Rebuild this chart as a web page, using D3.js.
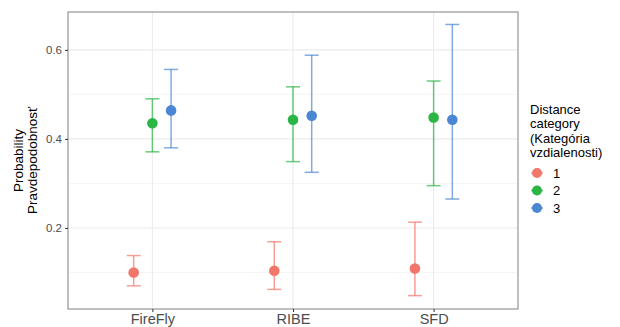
<!DOCTYPE html>
<html><head><meta charset="utf-8">
<script src="https://d3js.org/d3.v7.min.js"></script>
<style>body{margin:0;background:#fff;font-family:"Liberation Sans",Arial,sans-serif;}</style>
</head><body>
<svg id="chart" width="620" height="327"></svg>
<script>
// data
var methods=['FireFly','RIBE','SFD'];
var groups=['1','2','3'];
var colors=['#F3766B','#2BB544','#4A86D2'];
var est1=[0.100,0.104,0.109], lo1=[0.070,0.062,0.048], hi1=[0.138,0.169,0.213];
var est2=[0.435,0.443,0.448], lo2=[0.371,0.349,0.295], hi2=[0.490,0.517,0.530];
var est3=[0.464,0.452,0.443], lo3=[0.380,0.325,0.265], hi3=[0.556,0.588,0.657];
var yTicks=[0.2,0.4,0.6], yMinor=[0.1,0.3,0.5];

var est=[est1,est2,est3], lo=[lo1,lo2,lo3], hi=[hi1,hi2,hi3];
var rows=[];
groups.forEach(function(g,gi){methods.forEach(function(m,mi){
  rows.push({m:m,g:g,gi:gi,v:est[gi][mi],lo:lo[gi][mi],hi:hi[gi][mi]});});});

var margin={left:68,right:102,top:12,bottom:18},W=620,H=327;
var svg=d3.select('#chart');
var x=d3.scalePoint().domain(methods).range([margin.left,W-margin.right]).padding(0.6);
var y=d3.scaleLinear().domain([0.018,0.685]).range([H-margin.bottom,margin.top]);
var dx=d3.scalePoint().domain(groups).range([-18.7,18.7]);

var grid=svg.append('g');
grid.selectAll('.mn').data(yMinor).join('line')
  .attr('x1',margin.left).attr('x2',W-margin.right)
  .attr('y1',d=>y(d)).attr('y2',d=>y(d)).attr('stroke','#F3F3F3').attr('stroke-width',0.8);
grid.selectAll('.mj').data(yTicks).join('line')
  .attr('x1',margin.left).attr('x2',W-margin.right)
  .attr('y1',d=>y(d)).attr('y2',d=>y(d)).attr('stroke','#EBEBEB').attr('stroke-width',1.1);
grid.selectAll('.vx').data(methods).join('line')
  .attr('x1',d=>x(d)).attr('x2',d=>x(d))
  .attr('y1',margin.top).attr('y2',H-margin.bottom).attr('stroke','#EBEBEB').attr('stroke-width',1.1);

// error bars
var eb=svg.append('g').selectAll('g').data(rows).join('g')
  .attr('stroke',d=>colors[d.gi]).attr('stroke-opacity',0.7).attr('stroke-width',1.5);
eb.append('line').attr('x1',d=>x(d.m)+dx(d.g)).attr('x2',d=>x(d.m)+dx(d.g))
  .attr('y1',d=>y(d.lo)).attr('y2',d=>y(d.hi));
eb.append('line').attr('x1',d=>x(d.m)+dx(d.g)-7).attr('x2',d=>x(d.m)+dx(d.g)+7)
  .attr('y1',d=>y(d.lo)).attr('y2',d=>y(d.lo));
eb.append('line').attr('x1',d=>x(d.m)+dx(d.g)-7).attr('x2',d=>x(d.m)+dx(d.g)+7)
  .attr('y1',d=>y(d.hi)).attr('y2',d=>y(d.hi));

svg.append('g').selectAll('circle').data(rows).join('circle')
  .attr('cx',d=>x(d.m)+dx(d.g)).attr('cy',d=>y(d.v)).attr('r',5.3)
  .attr('fill',d=>colors[d.gi]);

// panel border
svg.append('rect').attr('x',margin.left).attr('y',margin.top)
  .attr('width',W-margin.right-margin.left).attr('height',H-margin.bottom-margin.top)
  .attr('fill','none').attr('stroke','#8C8C8C').attr('stroke-width',1.1);

// axes
var ya=svg.append('g').attr('transform','translate('+margin.left+',0)')
  .call(d3.axisLeft(y).tickValues(yTicks).tickFormat(d3.format('.1f')).tickSize(3).tickPadding(3));
var xa=svg.append('g').attr('transform','translate(0,'+(H-margin.bottom)+')')
  .call(d3.axisBottom(x).tickSize(3).tickPadding(2));
[ya,xa].forEach(function(a){a.select('.domain').remove();
  a.selectAll('line').attr('stroke','#333').attr('stroke-width',1);
  a.selectAll('text').attr('fill','#4D4D4D').style('font-family','"Liberation Sans",Arial,sans-serif');});
ya.selectAll('text').style('font-size','11.5px');
xa.selectAll('text').style('font-size','14.5px');

// y title
var yt=svg.append('text').attr('transform','translate(25,'+((margin.top+H-margin.bottom)/2)+') rotate(-90)')
  .attr('text-anchor','middle').style('font-size','13.5px').attr('fill','#000');
yt.append('tspan').attr('x',0).attr('dy','-0.15em').text('Probability');
yt.append('tspan').attr('x',0).attr('dy','1.05em').text('Pravdepodobnosť');

// legend
var lg=svg.append('g').attr('transform','translate(530,0)');
['Distance','category','(Kategória','vzdialenosti)'].forEach(function(t,i){
  lg.append('text').attr('x',0).attr('y',114+i*14.3).style('font-size','13px').attr('fill','#000').text(t);});
var ky=d3.scalePoint().domain(groups).range([173,208]);
groups.forEach(function(g,gi){
  lg.append('line').attr('x1',1).attr('x2',13).attr('y1',ky(g)).attr('y2',ky(g))
    .attr('stroke',colors[gi]).attr('stroke-opacity',0.7).attr('stroke-width',1.5);
  lg.append('circle').attr('cx',7).attr('cy',ky(g)).attr('r',5).attr('fill',colors[gi]);
  lg.append('text').attr('x',23).attr('y',ky(g)+4.5).style('font-size','13px').attr('fill','#000').text(g);});
</script>
</body></html>
